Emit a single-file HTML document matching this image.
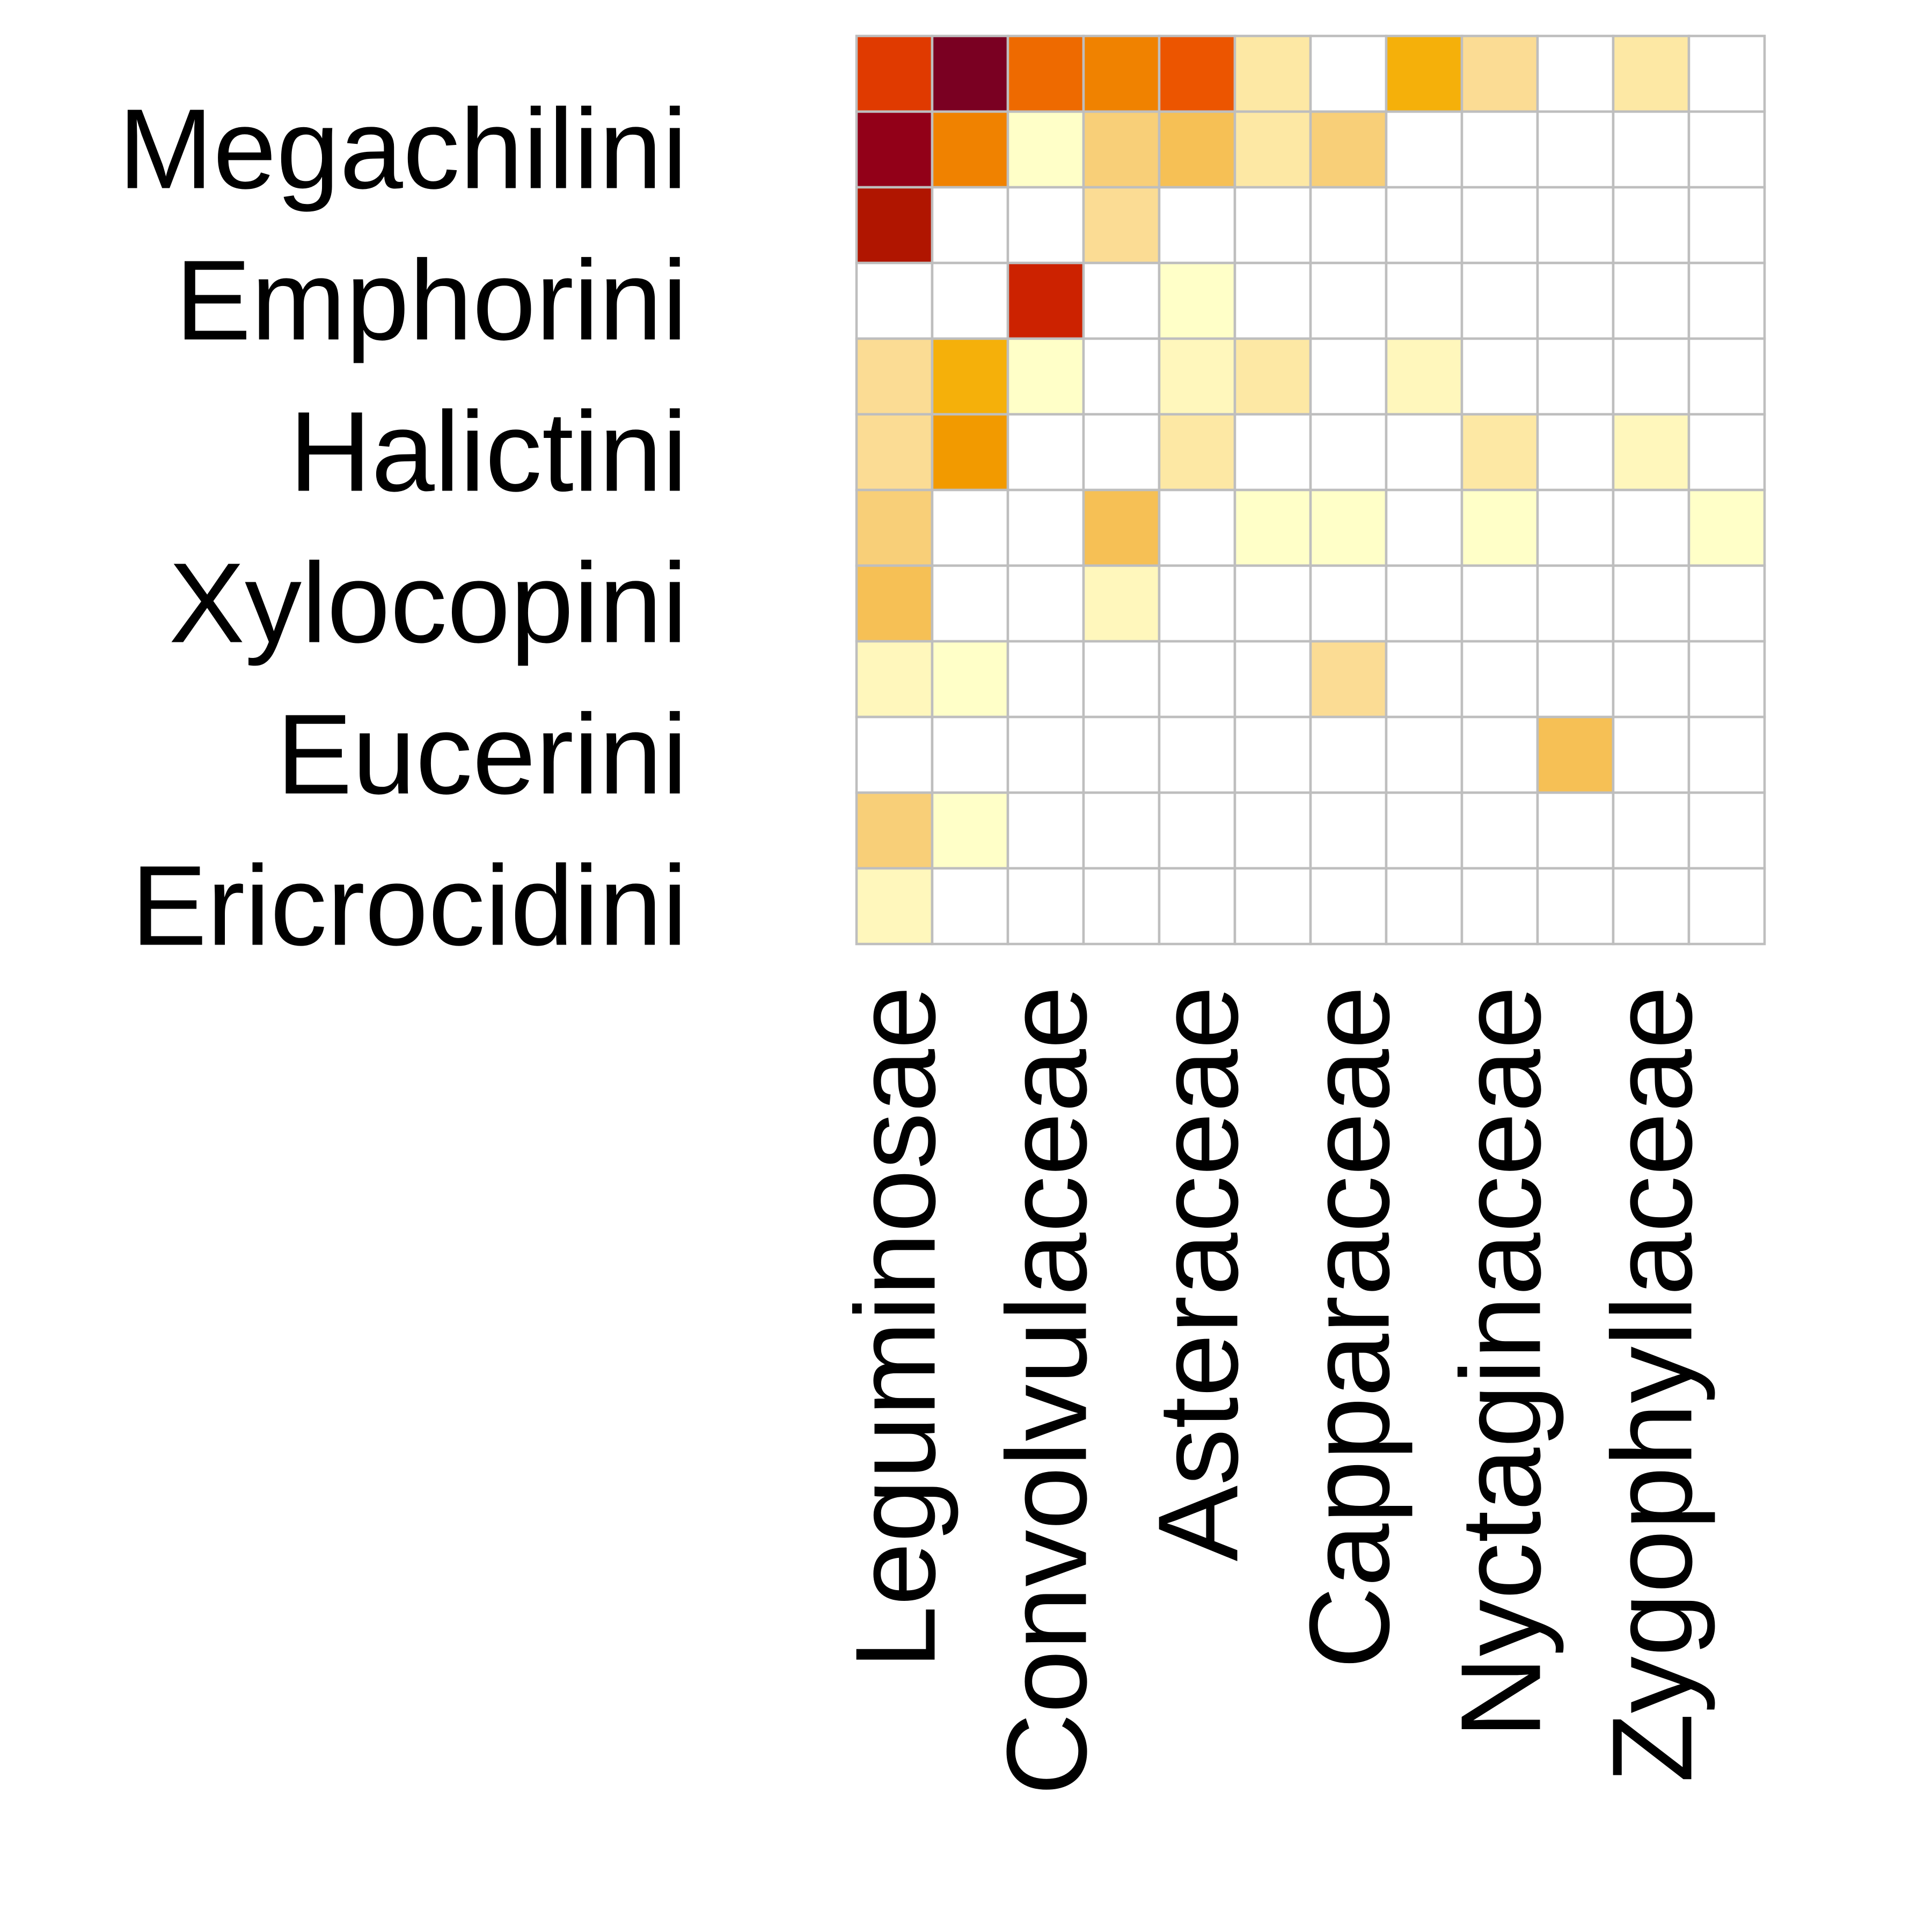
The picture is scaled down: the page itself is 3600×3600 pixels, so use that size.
<!DOCTYPE html>
<html><head><meta charset="utf-8"><style>
html,body{margin:0;padding:0;background:#fff;}
svg{display:block;}
text{font-family:"Liberation Sans",sans-serif;fill:#000;}
</style></head><body>
<svg id="chart" width="3600" height="3600" viewBox="0 0 3600 3600" xmlns="http://www.w3.org/2000/svg">
<g id="cells"></g>
<g id="ylabels"></g>
<g id="xlabels"></g>
</svg>
<script>
const rowLabels = ["Megachilini","Emphorini","Halictini","Xylocopini","Eucerini","Ericrocidini"];
const rowLabelIdx = [1,3,5,7,9,11];
const colLabels = ["Leguminosae","Convolvulaceae","Asteraceae","Capparaceae","Nyctaginaceae","Zygophyllaceae"];
const colLabelIdx = [0,2,4,6,8,10];
const palette = ["#ffffff","#ffffc8","#fff7bc","#fde8a4","#fbdc94","#f8cf78","#f6c055","#f5b00a","#f29a00","#f08200","#ee6a00","#ec5500","#e03a00","#cc2200","#b01500","#920018","#7a0022"];
const values = [
 [12,16,10,9,11,3,0,7,4,0,3,0],
 [15,9,1,5,6,3,5,0,0,0,0,0],
 [14,0,0,4,0,0,0,0,0,0,0,0],
 [0,0,13,0,1,0,0,0,0,0,0,0],
 [4,7,1,0,2,3,0,2,0,0,0,0],
 [4,8,0,0,3,0,0,0,3,0,2,0],
 [5,0,0,6,0,1,1,0,1,0,0,1],
 [6,0,0,2,0,0,0,0,0,0,0,0],
 [2,1,0,0,0,0,4,0,0,0,0,0],
 [0,0,0,0,0,0,0,0,0,6,0,0],
 [5,1,0,0,0,0,0,0,0,0,0,0],
 [2,0,0,0,0,0,0,0,0,0,0,0]
];
const NS="http://www.w3.org/2000/svg";
const x0=1596,y0=67,W=1692,H=1692;
const nR=values.length,nC=values[0].length;
const cw=W/nC,ch=H/nR;
const xPos=c=>x0+c*cw, yPos=r=>y0+r*ch;
const cells=document.getElementById('cells');
values.forEach((row,r)=>row.forEach((v,c)=>{
  const el=document.createElementNS(NS,'rect');
  el.setAttribute('x',xPos(c));el.setAttribute('y',yPos(r));
  el.setAttribute('width',cw);el.setAttribute('height',ch);
  el.setAttribute('fill',palette[v]);el.setAttribute('stroke','#bebebe');el.setAttribute('stroke-width','4.5');
  
  
  cells.appendChild(el);
}));
const yl=document.getElementById('ylabels');
rowLabels.forEach((t,i)=>{
  const el=document.createElementNS(NS,'text');
  el.setAttribute('x',1281);el.setAttribute('y',yPos(rowLabelIdx[i])+ch/2+72);
  el.setAttribute('text-anchor','end');el.setAttribute('font-size','212');
  el.textContent=t;
  
  
  yl.appendChild(el);
});
const xl=document.getElementById('xlabels');
colLabels.forEach((t,i)=>{
  const el=document.createElementNS(NS,'text');
  const cx=xPos(colLabelIdx[i])+cw/2+75, ty=1837;
  el.setAttribute('transform','translate('+cx+','+ty+') rotate(-90)');
  el.setAttribute('text-anchor','end');el.setAttribute('font-size','212');
  el.textContent=t;
  
  
  xl.appendChild(el);
});
</script>
</body></html>
